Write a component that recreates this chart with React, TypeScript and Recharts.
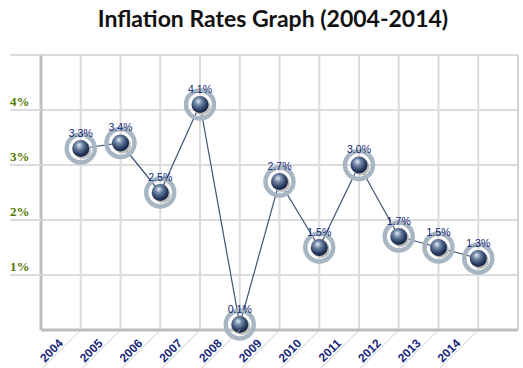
import React from "react";
import {
  LineChart,
  Line,
  XAxis,
  YAxis,
  CartesianGrid,
  ReferenceLine,
} from "recharts";

const years = [2004, 2005, 2006, 2007, 2008, 2009, 2010, 2011, 2012, 2013, 2014];
const rates = [3.3, 3.4, 2.5, 4.1, 0.1, 2.7, 1.5, 3.0, 1.7, 1.5, 1.3];
const yTicks = [0, 1, 2, 3, 4, 5];

const data = years.map((year, i) => ({ year, rate: rates[i] }));

const GRID = "#dcdcdc";
const AXIS = "#bdbdbd";
const PLOT_BOTTOM = 330;

const YTick = (props: any) => {
  const { y, payload } = props;
  if (payload.value === 0) return null;
  return (
    <g>
      <line x1={10} x2={41} y1={y} y2={y} stroke={GRID} strokeWidth={2} />
      {payload.value < 5 && (
        <text
          x={10}
          y={y - 4}
          fontFamily="Liberation Serif"
          fontWeight="bold"
          fontSize={13}
          fill="#557800"
        >
          {payload.value}%
        </text>
      )}
    </g>
  );
};

const XTick = (props: any) => {
  const { x, payload } = props;
  return (
    <g transform={`translate(${x},${PLOT_BOTTOM}) rotate(-45)`}>
      <line x1={0} y1={0} x2={-56} y2={0} stroke="#c4c4c4" strokeWidth={0.8} />
      <text
        x={-22}
        y={-2}
        textAnchor="end"
        fontFamily="Liberation Sans"
        fontWeight="bold"
        fontSize={12}
        fill="#17277a"
      >
        {payload.value}
      </text>
    </g>
  );
};

// dot with its own value label, so the label sits above the ring
const Marker = (props: any) => {
  const { cx, cy, index, payload } = props;
  const id = `sphere-${index}`;
  return (
    <g key={id}>
      <defs>
        <radialGradient id={id} cx="0.42" cy="0.38" r="0.62" fx="0.4" fy="0.3">
          <stop offset="0" stopColor="#e4ecf4" />
          <stop offset="0.35" stopColor="#7086a6" />
          <stop offset="0.8" stopColor="#24385c" />
          <stop offset="1" stopColor="#16243f" />
        </radialGradient>
      </defs>
      <circle cx={cx} cy={cy} r={14} fill="none" stroke="#a8b6c4" strokeWidth={4.5} />
      <circle cx={cx + 2} cy={cy + 2} r={8.5} fill="#bcbcbc" />
      <circle cx={cx} cy={cy} r={8.5} fill={`url(#${id})`} />
      <text
        x={cx}
        y={cy - 12}
        textAnchor="middle"
        fontFamily="Liberation Sans"
        fontSize={10.5}
        fill="#0f1f70"
      >
        {Number(payload.rate).toFixed(1)}%
      </text>
    </g>
  );
};

export default function App() {
  return (
    <div
      style={{
        position: "absolute",
        left: 0,
        top: 0,
        width: 523,
        height: 368,
        background: "#fff",
      }}
    >
      <svg
        width={523}
        height={40}
        style={{ position: "absolute", left: 0, top: 0 }}
      >
        <text
          x={273}
          y={27}
          textAnchor="middle"
          fontFamily="Lato"
          fontWeight="bold"
          fontSize={23}
          fill="#111"
        >
          Inflation Rates Graph (2004-2014)
        </text>
      </svg>
      <div style={{ position: "absolute", left: 0, top: 0 }}>
        <LineChart
          width={523}
          height={368}
          data={data}
          margin={{ top: 55, right: 5, bottom: 0, left: 0 }}
        >
          <CartesianGrid stroke={GRID} strokeWidth={2} />
          <XAxis
            dataKey="year"
            type="number"
            domain={[2003, 2015]}
            ticks={years}
            interval={0}
            height={38}
            axisLine={{ stroke: AXIS, strokeWidth: 3 }}
            tickLine={false}
            tick={<XTick />}
          />
          <YAxis
            domain={[0, 5]}
            ticks={yTicks}
            width={41}
            axisLine={{ stroke: AXIS, strokeWidth: 3 }}
            tickLine={false}
            tick={<YTick />}
          />
          <ReferenceLine x={2015} stroke="#d4d4d4" strokeWidth={2} />
          <Line
            dataKey="rate"
            stroke="#3f5575"
            strokeWidth={1.2}
            dot={<Marker />}
            isAnimationActive={false}
          />
        </LineChart>
      </div>
    </div>
  );
}
